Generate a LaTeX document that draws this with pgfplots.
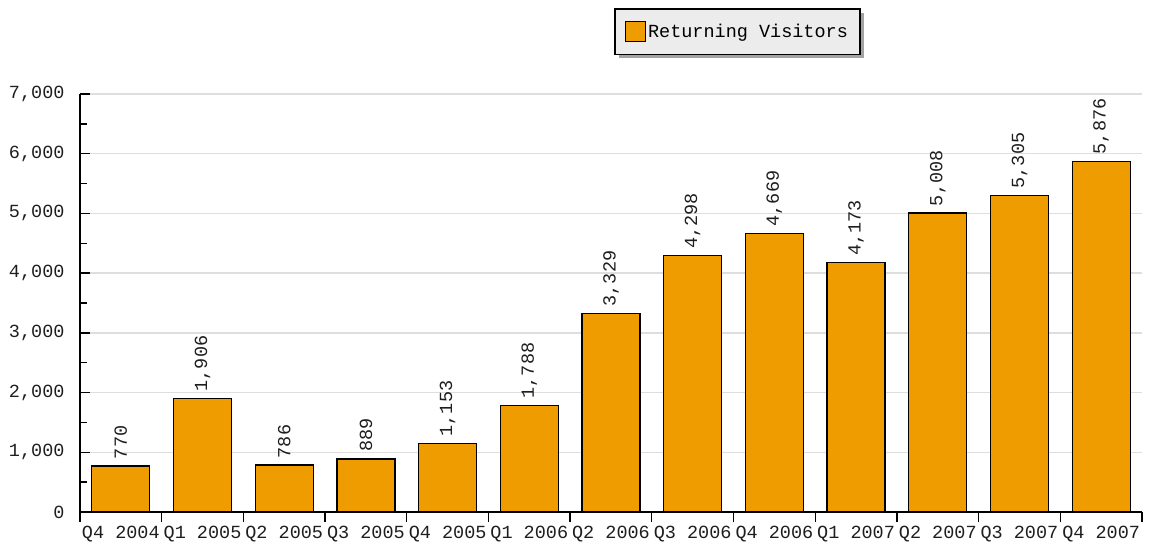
\documentclass[border=0pt]{standalone}
\usepackage{fontspec}
\setmainfont{Liberation Mono}
\usepackage{pgfplots}
\pgfplotsset{compat=1.18}
\usetikzlibrary{shadows}
\definecolor{barc}{RGB}{238,156,0}
\definecolor{gridc}{RGB}{222,222,222}
\definecolor{legbg}{RGB}{236,236,236}
\definecolor{txt}{RGB}{30,30,30}
\begin{document}
\begin{tikzpicture}[font=\fontsize{18.5pt}{21pt}\selectfont]
\path[use as bounding box] (0pt,0pt) rectangle (1163pt,544pt);
\begin{axis}[
  at={(80pt,32pt)}, anchor=south west, scale only axis,
  width=1062pt, height=418pt,
  xmin=-0.5, xmax=12.5, ymin=0, ymax=7000,
  axis x line*=bottom, axis y line*=left,
  axis line style={-, line width=1.4pt, black},
  tick align=inside,
  major tick length=10pt, minor tick length=7pt,
  tick style={black, line width=1.3pt},
  ytick={0,1000,...,7000}, minor y tick num=1,
  ymajorgrids, major grid style={gridc, line width=1.3pt},
  xtick={-0.5,0.5,...,12.5},
  x tick label as interval,
  xticklabels={Q4 2004,Q1 2005,Q2 2005,Q3 2005,Q4 2005,Q1 2006,Q2 2006,Q3 2006,Q4 2006,Q1 2007,Q2 2007,Q3 2007,Q4 2007},
  xticklabel style={txt, yshift=-1pt, inner xsep=0pt},
  yticklabel style={txt, xshift=-12pt},
  scaled y ticks=false,
  /pgf/number format/1000 sep={,},
  /pgf/number format/assume math mode=true,
  ybar, bar width=0.71,
  nodes near coords,
  nodes near coords style={rotate=90, anchor=west, txt, xshift=3pt},
  legend style={at={(0.619,1.205)}, anchor=north, fill=legbg, draw=black,
    line width=1.3pt, drop shadow={shadow xshift=4pt, shadow yshift=-4pt, fill=black!36, opacity=1},
    inner xsep=10pt, inner ysep=12pt,
    nodes={inner xsep=2pt, inner ysep=3pt}},
  legend image code/.code={%
    \pgfsetfillcolor{barc}\pgfsetstrokecolor{black}\pgfsetlinewidth{1.2pt}%
    \pgfpathrectangle{\pgfpoint{5pt}{-10pt}}{\pgfpoint{20pt}{20pt}}%
    \pgfusepath{fill,stroke}},
  legend cell align=left,
]
\addplot[fill=barc, draw=black, line width=1.2pt] coordinates {
(0,770) (1,1906) (2,786) (3,889) (4,1153) (5,1788) (6,3329)
(7,4298) (8,4669) (9,4173) (10,5008) (11,5305) (12,5876)};
\legend{Returning Visitors}
\end{axis}
\end{tikzpicture}
\end{document}
